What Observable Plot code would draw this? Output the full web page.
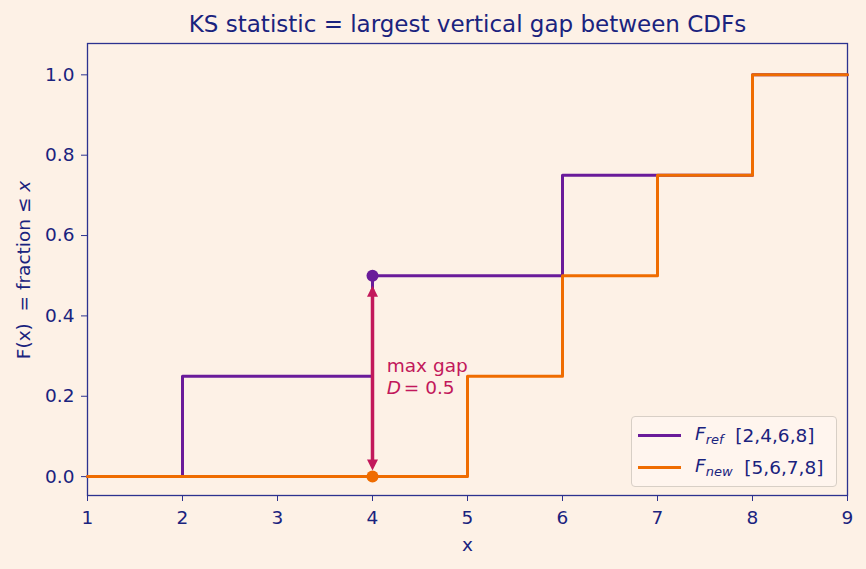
<!DOCTYPE html>
<html>
<head>
<meta charset="utf-8">
<script src="https://cdn.jsdelivr.net/npm/d3@7"></script>
<script src="https://cdn.jsdelivr.net/npm/@observablehq/plot@0.6"></script>
<style>
  html, body { margin: 0; padding: 0; background: #fdf1e6; }
  #chart { position: relative; width: 866px; height: 569px; font-family: "DejaVu Sans", sans-serif; color: #1a237e; }
  #chart svg { display: block; }
  .legend { position: absolute; left: 631px; top: 416px; width: 206px; height: 71px; box-sizing: border-box;
            border: 1px solid #d8cfc6; border-radius: 4px; background: rgba(255, 246, 238, 0.85); font-size: 18.5px; }
  .row { position: absolute; left: 6px; height: 24px; display: flex; align-items: center; white-space: pre; }
  .sw { width: 43px; height: 3px; margin-right: 14px; }
  .math { font-style: italic; }
  .math sub { font-size: 13px; vertical-align: -4px; }
</style>
</head>
<body>
<div id="chart"></div>
<script>
// Empirical CDF step points (x where the step starts, value after the step)
const refX = [1, 2, 4, 6, 8, 9];
const refF = [0, 0.25, 0.5, 0.75, 1, 1];
const newX = [1, 5, 6, 7, 8, 9];
const newF = [0, 0.25, 0.5, 0.75, 1, 1];

// Samples shown in the legend
const refSample = [2, 4, 6, 8];
const newSample = [5, 6, 7, 8];

// Location and ends of the largest vertical gap
const gapX = [4];
const gapLow = [0];
const gapHigh = [0.5];
const gapD = 0.5;

const xTicks = [1, 2, 3, 4, 5, 6, 7, 8, 9];
const yTicks = [0, 0.2, 0.4, 0.6, 0.8, 1.0];

const titleText = "KS statistic = largest vertical gap between CDFs";

const navy = "#1a237e";
const spine = "#2c3290";
const purple = "#6a1b9a";
const orange = "#ef6c00";
const crimson = "#c2185b";

const refData = refX.map((x, i) => ({x, y: refF[i]}));
const newData = newX.map((x, i) => ({x, y: newF[i]}));
const gapData = gapX.map((x, i) => ({x, lo: gapLow[i], hi: gapHigh[i]}));

// Filled arrow head with its tip at the origin, pointing up
const headUp = {
  draw(context) {
    context.moveTo(0, 0);
    context.lineTo(5.5, 11);
    context.lineTo(-5.5, 11);
    context.closePath();
  }
};

const fs = 18.5;

const chart = Plot.plot({
  width: 866,
  height: 569,
  marginLeft: 87,
  marginRight: 19,
  marginTop: 43,
  marginBottom: 74,
  style: {background: "transparent", fontFamily: "DejaVu Sans, sans-serif", fontSize: fs + "px", color: navy},
  x: {domain: [1, 9]},
  y: {domain: [-0.047, 1.078]},
  marks: [
    Plot.frame({stroke: spine, strokeWidth: 1.3}),
    Plot.axisX({ticks: xTicks, tickSize: 6, tickPadding: 9, stroke: spine, fill: navy, fontSize: fs, label: null, tickFormat: d3.format("d")}),
    Plot.axisY({ticks: yTicks, tickSize: 6, tickPadding: 7, stroke: spine, fill: navy, fontSize: fs, label: null, tickFormat: d3.format(".1f")}),
    Plot.line(refData, {x: "x", y: "y", curve: "step-after", stroke: purple, strokeWidth: 3}),
    Plot.line(newData, {x: "x", y: "y", curve: "step-after", stroke: orange, strokeWidth: 3}),
    // double-headed arrow marking D
    Plot.ruleX(gapData, {x: "x", y1: "hi", y2: "lo", stroke: crimson, strokeWidth: 3.5, insetTop: 14, insetBottom: 10}),
    Plot.dot(gapData, {x: "x", y: "hi", symbol: headUp, r: 6, fill: crimson, stroke: "none", dy: 10}),
    Plot.dot(gapData, {x: "x", y: "lo", symbol: headUp, r: 6, fill: crimson, stroke: "none", dy: -6, rotate: 180}),
    Plot.dot(gapData, {x: "x", y: "hi", r: 6, fill: purple}),
    Plot.dot(gapData, {x: "x", y: "lo", r: 6, fill: orange}),
    // annotation
    Plot.text(gapData, {x: d => d.x + 0.15, y: d => (d.lo + d.hi) / 2, text: () => "max gap", textAnchor: "start", fill: crimson, fontSize: fs, dy: -10}),
    Plot.text(gapData, {x: d => d.x + 0.15, y: d => (d.lo + d.hi) / 2, text: () => "D", textAnchor: "start", fill: crimson, fontSize: fs, fontStyle: "italic", dy: 11.5}),
    Plot.text(gapData, {x: d => d.x + 0.15, y: d => (d.lo + d.hi) / 2, text: () => "= " + gapD, textAnchor: "start", fill: crimson, fontSize: fs, dx: 17, dy: 11.5}),
    // title and x label
    Plot.text([titleText], {frameAnchor: "top", lineAnchor: "middle", dy: -19, fontSize: 23, fill: navy}),
    Plot.text(["x"], {frameAnchor: "bottom", lineAnchor: "middle", dy: 50, fontSize: fs, fill: navy})
  ]
});

// y axis label with an italic x
const svg = d3.select(chart);
const yl = svg.append("text")
  .attr("transform", "translate(23,270) rotate(-90)")
  .attr("text-anchor", "middle")
  .attr("dominant-baseline", "central")
  .attr("fill", navy)
  .style("font-size", fs + "px")
  .style("white-space", "pre");
yl.append("tspan").text("F(x)  = fraction \u2264 ");
yl.append("tspan").attr("font-style", "italic").text("x");

const root = document.getElementById("chart");
root.appendChild(chart);

// legend
const legend = document.createElement("div");
legend.className = "legend";
const entries = [
  {color: purple, sub: "ref", sample: refSample, top: 6},
  {color: orange, sub: "new", sample: newSample, top: 38}
];
for (const e of entries) {
  const row = document.createElement("div");
  row.className = "row";
  row.style.top = e.top + "px";
  row.innerHTML = `<span class="sw" style="background:${e.color}"></span><span class="math">F<sub>${e.sub}</sub></span><span>  [${e.sample.join(",")}]</span>`;
  legend.appendChild(row);
}
root.appendChild(legend);
</script>
</body>
</html>
